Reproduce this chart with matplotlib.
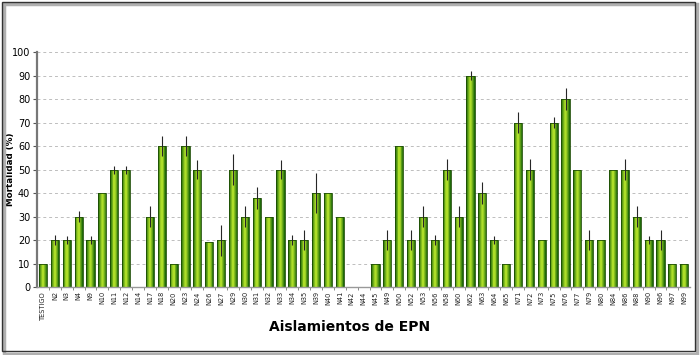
import numpy as np
import matplotlib.pyplot as plt
from matplotlib.patches import Rectangle

# Datos
aislamientos = ['TESTIGO', 'N2', 'N3', 'N4', 'N9', 'N10', 'N11', 'N12', 'N14', 'N17',
                'N18', 'N20', 'N23', 'N24', 'N26', 'N27', 'N29', 'N30', 'N31', 'N32',
                'N33', 'N34', 'N35', 'N39', 'N40', 'N41', 'N42', 'N44', 'N45', 'N49',
                'N50', 'N52', 'N53', 'N56', 'N58', 'N60', 'N62', 'N63', 'N64', 'N65',
                'N71', 'N72', 'N73', 'N75', 'N76', 'N77', 'N79', 'N80', 'N84', 'N86',
                'N88', 'N90', 'N96', 'N97', 'N99']
mortalidad = [10, 20, 20, 30, 20, 40, 50, 50, 0, 30,
              60, 10, 60, 50, 19, 20, 50, 30, 38, 30,
              50, 20, 20, 40, 40, 30, 0, 0, 10, 20,
              60, 20, 30, 20, 50, 30, 90, 40, 20, 10,
              70, 50, 20, 70, 80, 50, 20, 20, 50, 50,
              30, 20, 20, 10, 10]
error = [0, 2, 1.5, 2.3, 1.5, 0, 1.7, 1.7, 0, 4.3,
         4.4, 0, 4.4, 4.1, 0, 6.6, 6.6, 4.3, 4.6, 0,
         4.1, 2, 4.3, 8.7, 0, 0, 0, 0, 0, 4.3,
         0, 4.3, 4.3, 2, 4.3, 4.3, 2, 4.6, 1.6, 0,
         4.3, 4.3, 0, 2.2, 4.6, 0, 4.3, 0, 0, 4.3,
         4.3, 1.6, 4.3, 0, 0]

x = np.arange(len(aislamientos))
vals = np.array(mortalidad)

fig = plt.figure(figsize=(7, 3.55), dpi=100)
ax = fig.add_axes([0.053, 0.1915, 0.933, 0.662])

# barras con degradado (capas cada vez mas estrechas y claras)
dark = np.array([0.12, 0.42, 0.03])
light = np.array([0.68, 0.87, 0.16])
width = 0.68
nlay = 8
for k in range(nlay):
    t = k / (nlay - 1)
    col = dark * (1 - t) + light * t
    w = width * (1 - 0.9 * k / nlay)
    ax.bar(x, vals, width=w, color=col, linewidth=0, zorder=2 + k * 0.01)
ax.bar(x, vals, width=width, facecolor='none', edgecolor='#1d4d05', linewidth=0.6, zorder=2.5)

err = np.array(error)
mask = err > 0
ax.errorbar(x[mask], vals[mask], yerr=err[mask], fmt='none', ecolor='#262626',
            elinewidth=0.8, capsize=0, zorder=3)

ax.set_xlim(-0.5, len(x) - 0.5)
ax.set_ylim(0, 100)
ax.set_yticks(np.arange(0, 101, 10))
ax.yaxis.grid(True, linestyle=(0, (3, 3)), color='#bdbdbd', linewidth=0.7)
ax.set_axisbelow(True)
ax.set_xticks(x)
ax.set_xticklabels(aislamientos, rotation=90, fontsize=4.8, color='#222222')
ax.tick_params(axis='x', length=0, pad=3)
ax.tick_params(axis='y', labelsize=7, length=3, color='#555555', pad=2)
ax.set_xticks(x[:-1] + 0.5, minor=True)
ax.tick_params(axis='x', which='minor', length=2, color='#777777')

for s in ['top', 'right']:
    ax.spines[s].set_visible(False)
ax.spines['left'].set_color('#777777')
ax.spines['left'].set_linewidth(1.6)
ax.spines['bottom'].set_color('#999999')
ax.spines['bottom'].set_linewidth(1.0)

ax.set_ylabel('Mortalidad (%)', fontsize=6.3, fontweight='bold')
ax.yaxis.set_label_coords(-0.034, 0.5)
fig.text(0.50, 0.078, 'Aislamientos de EPN', ha='center', va='center',
         fontsize=10, fontweight='bold')

# marco exterior con sombra
fig.patches.append(Rectangle((0.006, 0.004), 0.99, 0.985, transform=fig.transFigure,
                             facecolor='none', edgecolor='#b0b0b0', linewidth=2.5))
fig.patches.append(Rectangle((0.003, 0.012), 0.99, 0.982, transform=fig.transFigure,
                             facecolor='none', edgecolor='#333333', linewidth=1.0))

fig.savefig('out.png', dpi=100)
